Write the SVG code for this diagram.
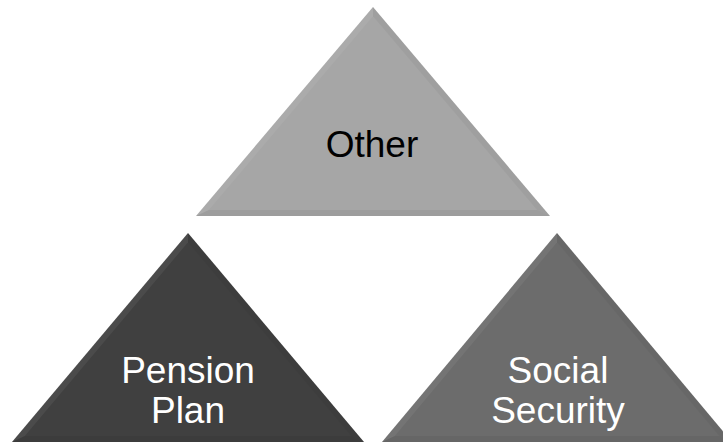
<svg xmlns="http://www.w3.org/2000/svg" width="723" height="443" viewBox="0 0 723 443">
  <style>
    .lbl { font-family: "Liberation Sans", Arial, sans-serif; font-size: 37px; text-anchor: middle; }
    .dark { fill: #000000; }
    .light { fill: #ffffff; }
    .hi { fill: #ffffff; fill-opacity: 0.06; }
    .sh { fill: #000000; fill-opacity: 0.04; }
    .shb { fill: #000000; fill-opacity: 0.05; }
  </style>
  <rect width="723" height="443" fill="#ffffff"/>
  <g id="node-other">
    <polygon points="373,7 196,216 550,216" fill="#a6a6a6"/>
    <polygon class="hi" points="373,7 196,216 208.9,210 373,16.3"/>
    <polygon class="sh" points="373,7 550,216 537.1,210 373,16.3"/>
    <polygon class="shb" points="196,216 550,216 537.1,210 208.9,210"/>
    <text class="lbl dark" x="372" y="157">Other</text>
  </g>
  <g id="node-pension">
    <polygon points="188,233 12,442 364,442" fill="#404040"/>
    <polygon class="hi" points="188,233 12,442 24.8,436 188,242.3"/>
    <polygon class="sh" points="188,233 364,442 351.2,436 188,242.3"/>
    <polygon class="shb" points="12,442 364,442 351.2,436 24.8,436"/>
    <text class="lbl light" x="188" y="383">Pension</text>
    <text class="lbl light" x="188" y="423">Plan</text>
  </g>
  <g id="node-social">
    <polygon points="557,233 382,442 732,442" fill="#6c6c6c"/>
    <polygon class="hi" points="557,233 382,442 394.8,436 557,242.3"/>
    <polygon class="sh" points="557,233 732,442 719.2,436 557,242.3"/>
    <polygon class="shb" points="382,442 732,442 719.2,436 394.8,436"/>
    <text class="lbl light" x="558" y="383">Social</text>
    <text class="lbl light" x="558" y="423">Security</text>
  </g>
</svg>
